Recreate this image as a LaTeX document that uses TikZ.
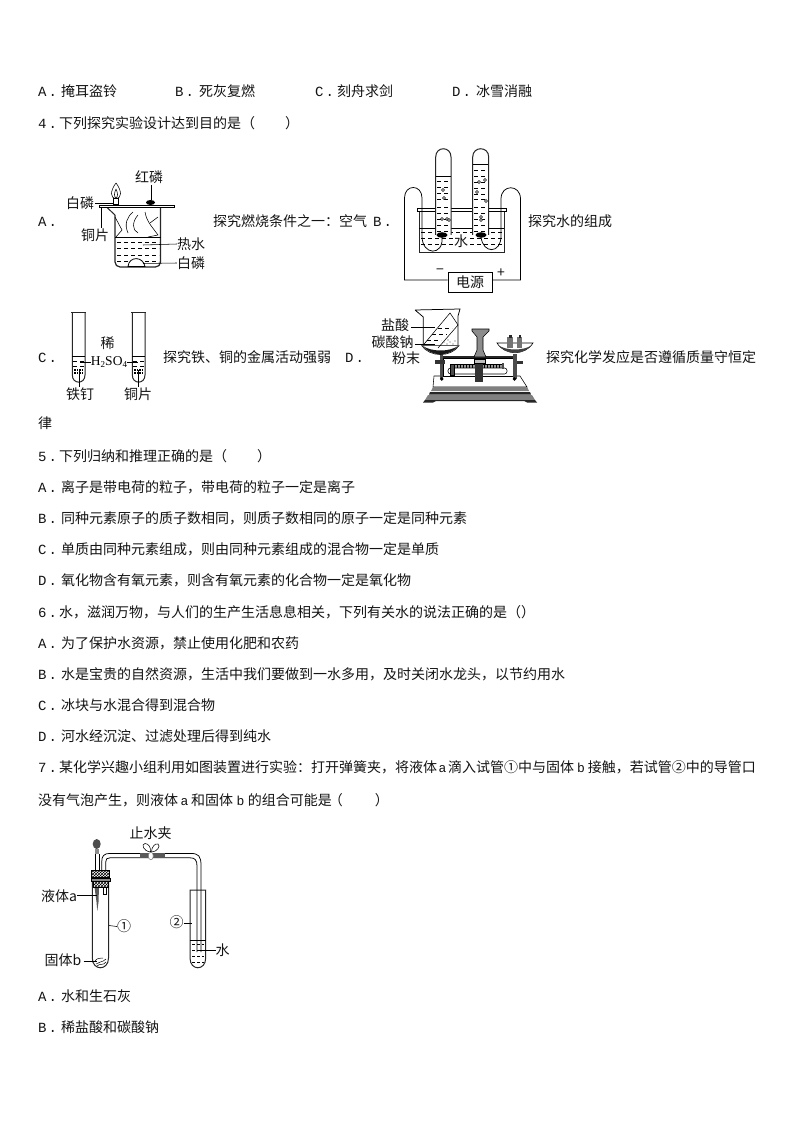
\documentclass[tikz,border=0pt]{standalone}
\usepackage{fontspec}
\setmainfont{Noto Sans CJK SC}
\newfontfamily\latnmono{Liberation Mono}
\newfontfamily\latnserif{Liberation Serif}
\usetikzlibrary{calc,patterns}
\newcommand{\lab}[1]{{\latnmono\fontsize{14}{16}\selectfont #1\hspace{2pt}.}}
\newcommand{\latn}[1]{{\latnmono\fontsize{13}{16}\selectfont #1}}
\tikzset{
  x=1pt,y=-1pt,
  txt/.style={anchor=base west,inner sep=0pt,font=\fontsize{14}{16}\selectfont,text=black!92},
  optlbl/.style={anchor=base west,inner sep=0pt,text=black!92},
  dlab/.style={anchor=center,inner sep=0pt,font=\fontsize{14}{15}\selectfont,text=black!92},
  ln/.style={line width=0.75pt,black},
  thin1/.style={line width=0.55pt,black},
  wall/.style={line width=1pt,black!85},
  dsh/.style={line width=0.6pt,black,dash pattern=on 4pt off 3pt},
  bub/.style={line width=0.45pt,black,fill=white},
  blob/.style={fill=black},
}
\begin{document}
\begin{tikzpicture}
\useasboundingbox[fill=white] (0,0) rectangle (794,1123);
% ---- text lines
\node[optlbl] (m1) at (38,96.5) {\lab{A}};
\node[txt] (t1) at (61,96.5) {掩耳盗铃};
\node[optlbl] (m2) at (175,96.5) {\lab{B}};
\node[txt] (t2) at (199,96.5) {死灰复燃};
\node[optlbl] (m3) at (315,96.5) {\lab{C}};
\node[txt] (t3) at (337,96.5) {刻舟求剑};
\node[optlbl] (m4) at (452,96.5) {\lab{D}};
\node[txt] (t4) at (476,96.5) {冰雪消融};
\node[optlbl] (q4m) at (38,128.5) {\lab{4}};
\node[txt] (q4) at (59,128.5) {下列探究实验设计达到目的是（\hspace{30pt}）};
\node[optlbl] (lA) at (38,227) {\lab{A}};
\node[txt] (capA) at (213,226) {探究燃烧条件之一：空气};
\node[optlbl] (lB) at (373,226) {\lab{B}};
\node[txt] (capB) at (528,226) {探究水的组成};
\node[optlbl] (lC) at (38,362) {\lab{C}};
\node[txt] (capC) at (163,362) {探究铁、铜的金属活动强弱};
\node[optlbl] (lD) at (345,362) {\lab{D}};
\node[txt] (capD) at (546,362) {探究化学发应是否遵循质量守恒定};
\node[txt] (lv) at (38,428) {律};
\node[optlbl] (q5m) at (38,461) {\lab{5}};
\node[txt] (q5) at (59,461) {下列归纳和推理正确的是（\hspace{30pt}）};
\node[optlbl] (a5m) at (38,492.5) {\lab{A}};
\node[txt] (a5) at (61,492.5) {离子是带电荷的粒子，带电荷的粒子一定是离子};
\node[optlbl] (b5m) at (38,523.5) {\lab{B}};
\node[txt] (b5) at (61,523.5) {同种元素原子的质子数相同，则质子数相同的原子一定是同种元素};
\node[optlbl] (c5m) at (38,554.5) {\lab{C}};
\node[txt] (c5) at (61,554.5) {单质由同种元素组成，则由同种元素组成的混合物一定是单质};
\node[optlbl] (d5m) at (38,585.5) {\lab{D}};
\node[txt] (d5) at (61,585.5) {氧化物含有氧元素，则含有氧元素的化合物一定是氧化物};
\node[optlbl] (q6m) at (38,617) {\lab{6}};
\node[txt] (q6) at (59,617) {水，滋润万物，与人们的生产生活息息相关，下列有关水的说法正确的是（）};
\node[optlbl] (a6m) at (38,648.5) {\lab{A}};
\node[txt] (a6) at (61,648.5) {为了保护水资源，禁止使用化肥和农药};
\node[optlbl] (b6m) at (38,679.5) {\lab{B}};
\node[txt] (b6) at (61,679.5) {水是宝贵的自然资源，生活中我们要做到一水多用，及时关闭水龙头，以节约用水};
\node[optlbl] (c6m) at (38,710.5) {\lab{C}};
\node[txt] (c6) at (61,710.5) {冰块与水混合得到混合物};
\node[optlbl] (d6m) at (38,741.5) {\lab{D}};
\node[txt] (d6) at (61,741.5) {河水经沉淀、过滤处理后得到纯水};
\node[optlbl] (q7m) at (38,772) {\lab{7}};
\node[txt] (q7) at (59,772) {某化学兴趣小组利用如图装置进行实验：打开弹簧夹，将液体\hspace{1.5pt}\latn{a}\hspace{1.5pt}滴入试管①中与固体\hspace{3pt}\latn{b}\hspace{3pt}接触，若试管②中的导管口};
\node[txt] (q7b) at (38,805) {没有气泡产生，则液体\hspace{2.5pt}\latn{a}\hspace{2.5pt}和固体\hspace{3.5pt}\latn{b}\hspace{3.5pt}的组合可能是\hspace{-3pt}（\hspace{32pt}）};
\node[optlbl] (a7m) at (38,1001.5) {\lab{A}};
\node[txt] (a7) at (61,1001.5) {水和生石灰};
\node[optlbl] (b7m) at (38,1032.5) {\lab{B}};
\node[txt] (b7) at (61,1032.5) {稀盐酸和碳酸钠};

% ---- figure A
\draw[wall] (107,207.5) -- (115,215);
\draw[line width=1.2pt,black!85,rounded corners=5pt] (115,215) -- (115,267) -- (160.5,267) -- (160.5,207.5);
\draw[thin1,fill=white] (99.5,205) rectangle (174.5,207.5);
\draw[thin1] (115,237.5) -- (160.5,237.5);
\foreach \yy in {242,248,255,261} \draw[dsh] (117,\yy) -- (159,\yy);
\draw[thin1] (115,217) -- (122,230) -- (116,237);
\draw[thin1] (133,212) .. controls (127,217) and (124,224) .. (128,233);
\draw[thin1] (138,215) .. controls (132,222) and (132,230) .. (138,233);
\draw[thin1] (145,212) .. controls (147,222) and (150,224) .. (158,235) -- (148,237);
\draw[thin1] (158,217) -- (150,223);
\draw[thin1,fill=white] (116,183) .. controls (122,191) and (122,198) .. (116,199) .. controls (110,198) and (110,191) .. (116,183);
\draw[thin1] (116,189) .. controls (118,193) and (118,197) .. (116,198) .. controls (114,197) and (114,193) .. (116,189);
\draw[line width=1pt,fill=white] (113.5,199) rectangle (118.5,204.5);
\fill[blob] (150.5,202.5) ellipse[x radius=4.5pt,y radius=2.5pt];
\draw[line width=0.8pt,fill=white] (128,266.5) .. controls (129,256) and (143,256) .. (145,266.5) -- cycle;
\node[dlab] (hongp) at (149,177) {红磷};
\node[dlab] (baip1) at (80,203) {白磷};
\node[dlab] (tongA) at (95,235) {铜片};
\node[dlab] (reshui) at (191,244) {热水};
\node[dlab] (baip2) at (191,263) {白磷};
\draw[thin1] (151.5,185) -- (151.5,200);
\draw[thin1] (baip1.east) ++(1,0) -- (113,203);
\draw[thin1] (101.7,207.5) -- (101.7,228);
\draw[thin1] (143,245) -- (reshui.west);
\draw[thin1] (143,263.5) -- (baip2.west);

% ---- figure B
\draw[wall] (419,211) -- (419,252) -- (504.3,252) -- (504.3,211);
\draw[thin1,fill=white] (417.5,208) rectangle (506.5,211);
\draw[thin1] (419,228) -- (504,228);
\foreach \yy in {232,238,244} \draw[dsh] (421,\yy) -- (503,\yy);
% tubes
\fill[white] (435.7,235) -- (435.7,157) .. controls (435.7,146) and (451,146) .. (451,157) -- (451,235) -- cycle;
\fill[white] (472.7,235) -- (472.7,157) .. controls (472.7,146) and (488.7,146) .. (488.7,157) -- (488.7,235) -- cycle;
\draw[wall] (435.7,235) -- (435.7,157) .. controls (435.7,146) and (451,146) .. (451,157) -- (451,235);
\draw[wall] (472.7,235) -- (472.7,157) .. controls (472.7,146) and (488.7,146) .. (488.7,157) -- (488.7,235);
\draw[thin1] (436,176) -- (451,176) (473,164) -- (488,164);
\foreach \yy in {181,187,193,199,207,213,219,225,231} \draw[dsh] (437,\yy) -- (450,\yy);
\foreach \yy in {170,176,182,188,194,199,207,213,219,225,231} \draw[dsh] (474,\yy) -- (488,\yy);
\foreach \xx/\yy in {443/190,444/198,442/219,447/219,449/220,479/182,485/180,477/192,486/201,481/217,481/220}
  \draw[bub] (\xx,\yy) circle[radius=1.5pt];
\fill[blob] (442,235) ellipse[x radius=5.5pt,y radius=2.8pt];
\fill[blob] (481,235) ellipse[x radius=5.5pt,y radius=2.8pt];
\node[draw,line width=0.75pt,minimum width=44pt,minimum height=20pt,inner sep=0pt,font=\fontsize{14}{16}\selectfont,text=black!92] (psu) at (470,282) {电源};
\coordinate (eL) at (442,237);
\coordinate (eR) at (481,237);
\draw[ln] (psu.west) ++(0,-2) -- (404.5,280) -- (404.5,198) .. controls (404.5,184) and (422,184) .. (422,198) -- (422,236) .. controls (422,256) and (444,256) .. (eL);
\draw[ln] (psu.east) ++(0,-2) -- (520.5,280) -- (520.5,199) .. controls (520.5,184) and (501,184) .. (501,199) -- (501,236) .. controls (501,254) and (483,254) .. (eR);
\node[dlab,fill=white,inner sep=1pt] (shui) at (461,241) {水};
\node[dlab] (minus) at (440,272) {−};
\node[dlab] (plus) at (501,273) {+};

% ---- figure C
\foreach \xa/\xb in {72.3/85,132.3/145}{
  \draw[wall] ({\xa-1},312) -- ({\xb+1},312);
  \draw[wall] (\xa,312) -- (\xa,375) .. controls (\xa,384.5) and (\xb,384.5) .. (\xb,375) -- (\xb,312);
  \draw[thin1] (\xa,356) -- (\xb,356);
  \draw[dsh] ({\xa+1},361) -- ({\xb-1},361);
  \draw[dsh] ({\xa+1},366) -- ({\xb-1},366);
  \foreach \dy in {0,1.5,3,4.5} \draw[thin1,dash pattern=on 1.5pt off 1pt] ({\xa+2},{369+\dy}) -- ({\xb-2},{369+\dy});
}
\node[dlab] (xi) at (107.7,343) {稀};
\node[anchor=center,inner sep=0pt,font=\latnserif\fontsize{13.5}{15}\selectfont] (acid) at (109,362) {H\raisebox{-2pt}{\fontsize{9}{10}\selectfont 2}SO\raisebox{-2pt}{\fontsize{9}{10}\selectfont 4}};
\node[dlab] (tie) at (80,394) {铁钉};
\node[dlab] (tong) at (138,394) {铜片};
\draw[thin1] (80,362) -- (acid.west);
\draw[thin1] (acid.east) -- (138,362);
\draw[thin1] (79,370) -- (79,387);
\draw[thin1] (138.5,370) -- (138.5,387);

% ---- figure D
% base
\draw[thin1,fill=white] (434,376) -- (520,376) -- (527,387) -- (433,387) -- cycle;
\fill[black!50] (433,387) -- (527,387) -- (529,391) -- (431,391) -- cycle;
\fill[black!85] (430,392) -- (530,392) -- (531,394.5) -- (429,394.5) -- cycle;
\fill[black!50] (428,395) -- (532,395) -- (535,400) -- (425,400) -- cycle;
\fill[black!85] (425,400) -- (535,400) -- (537,402.5) -- (527,402.5) -- (524,401) -- (436,401) -- (433,402.5) -- (423,402.5) -- cycle;
% housing and beam
\fill[black!85] (443,356) rectangle (513,358);
\draw[thin1,fill=white] (443,358) rectangle (513,376);
\draw[thin1,fill=black!40] (452,364) rectangle (503,368);
\foreach \xx in {454,457,...,502} \draw[line width=0.3pt,black] (\xx,364) -- (\xx,368);
\draw[thin1,fill=white,rounded corners=2.5pt] (448,368) rectangle (507,374);
\draw[thin1,fill=black!70] (450,364) rectangle (454,375);
\fill[black!70] (502,363) rectangle (504,369);
% centre post
\draw[thin1,fill=black!45] (472,329) -- (489,329) -- (489,331) -- (483,337) -- (483,350) -- (486,357) -- (474,357) -- (477,350) -- (477,337) -- (472,331) -- cycle;
\fill[black!80] (475,360) rectangle (483,382);
\draw[thin1,fill=black!25] (474,359) rectangle (485,363);
% columns
\fill[black!70] (440,354) rectangle (443,379);
\fill[black!70] (513,354) rectangle (517,379);
\fill[black!80] (435,360) rectangle (445,364);
\fill[black!80] (517,361) rectangle (523,364);
\fill[black] (441.7,379) circle[radius=1.8pt];
\fill[black] (514.5,379) circle[radius=1.8pt];
% pans
\draw[thin1,fill=white] (421.7,345.7) .. controls (430,357.5) and (451,357.5) .. (459,345.7) -- cycle;
\fill[black!90] (423,346) .. controls (431,357) and (450,357) .. (458,346) .. controls (450,352) and (431,352) .. (423,346) -- cycle;
\draw[thin1,fill=white] (497,343) .. controls (505,356) and (525,356) .. (533,343) -- cycle;
\fill[black!75] (498,345) .. controls (506,355) and (524,355) .. (532,345) .. controls (524,351) and (506,351) .. (498,345) -- cycle;
\fill[black!55] (507,337) rectangle (513,348);
\fill[black!55] (517,337) rectangle (522,348);
\fill[black!85] (508.5,335) rectangle (511.5,338);
\fill[black!85] (518.5,335) rectangle (520.5,338);
% beaker
\draw[ln] (415,310) -- (460,309) -- (458,316) -- (458,345) (415,310) -- (423.3,317) -- (423.3,345);
\draw[thin1] (423.3,345) -- (450,313) -- (458,325) -- (438,348);
\foreach \yy/\xa/\xb in {328/438/452,334/432/447,340/427/441} \draw[dsh,line width=0.45pt] (\xa,\yy) -- (\xb,\yy);
\fill[black!70] (444,342) circle[radius=0.7pt] (447,344) circle[radius=0.7pt] (450,342) circle[radius=0.7pt] (453,344) circle[radius=0.7pt] (448,340) circle[radius=0.7pt] (455,341) circle[radius=0.7pt];
\node[dlab] (yansuan) at (395,325) {盐酸};
\node[dlab] (tansuan) at (392.7,342) {碳酸钠};
\node[dlab] (fenmo) at (406,358.5) {粉末};
\draw[thin1] (yansuan.east) ++(2,2.5) -- (435,327.5);
\draw[thin1] (tansuan.east) ++(1,2) -- (435,344);

% ---- figure E
\draw[wall] (92.3,882) -- (92.3,958) .. controls (92.3,971) and (108.5,971) .. (108.5,958) -- (108.5,882);
\draw[wall] (190,890) -- (190,958) .. controls (190,971) and (205.7,971) .. (205.7,958) -- (205.7,890) -- cycle;
\draw[thin1] (190,940) -- (205.7,940);
\foreach \yy in {944,950,956,962} \draw[dsh,dash pattern=on 3pt off 2pt] (192,\yy) -- (204,\yy);
% glass tube
\draw[ln] (101.7,870) -- (101.7,862) .. controls (101.7,856) and (104,853.4) .. (110,853.4) -- (190,853.4) .. controls (199,853.4) and (201,856) .. (201,866) -- (201,952);
\draw[ln] (105.7,870) -- (105.7,862) .. controls (105.7,859) and (107,857.8) .. (110,857.8) -- (190,857.8) .. controls (195,857.8) and (197,860) .. (197,866) -- (197,952);
\draw[thin1,fill=white] (103.3,887) rectangle (106.7,894);
% clip
\fill[black!65] (140,853.3) rectangle (165,858.3);
\draw[thin1,fill=white] (150.5,852) .. controls (143,851) and (141,844) .. (145,843.5) .. controls (149,843.5) and (151,848) .. (150.5,852) -- cycle;
\draw[thin1,fill=white] (151.5,852) .. controls (151.5,847) and (155,843) .. (158,844) .. controls (161,846) and (157,852) .. (151.5,852) -- cycle;
\draw[thin1,draw=black!50,fill=white] (148.3,856) .. controls (148.3,851) and (153.3,851) .. (153.3,856) .. controls (153.3,861) and (148.3,861) .. (148.3,856) -- cycle;
% dropper
\fill[black!70] (96.7,844) ellipse[x radius=4pt,y radius=5pt];
\fill[black!45] (94.5,849) rectangle (99,854);
\draw[thin1] (95,854) -- (95,870) (99,854) -- (99,870);
\fill[black!65] (94.5,887) -- (99,887) -- (98.5,902) -- (97.3,911) -- (96.5,902) -- cycle;
% stopper
\draw[thin1,fill=white] (91.7,870) rectangle (109,877.7);
\fill[pattern=crosshatch,pattern color=black] (91.7,870) rectangle (109,877.7);
\draw[thin1,fill=black!45] (91,878.3) rectangle (110,881);
\draw[thin1,fill=white] (93.3,881.5) rectangle (108.3,887);
\fill[pattern=crosshatch,pattern color=black] (93.3,881.5) rectangle (108.3,887);
% solid b
\draw[line width=0.5pt] (95,961) .. controls (98,957) and (100,959) .. (103,958) (96,964) .. controls (99,961) and (102,963) .. (106,959) (97,966) .. controls (100,963) and (103,966) .. (106,962);
\node[dlab] (clip) at (150.7,832.7) {止水夹};
\node[dlab] (liqa) at (59,895.7) {液体a};
\node[dlab] (soa) at (63,960) {固体b};
\node[dlab] (c1) at (124,926.5) {①};
\node[dlab] (c2) at (176.7,922.5) {②};
\node[dlab] (wtr) at (222.7,950) {水};
\draw[thin1] (liqa.east) -- (97,895.7);
\draw[thin1] (soa.east) ++(2,1) -- (97,961);
\draw[thin1] (109,925.5) -- (c1.west);
\draw[thin1] (c2.east) ++(0,1) -- (192,923.5);
\draw[thin1] (200,950) -- (wtr.west);
\end{tikzpicture}
\end{document}
